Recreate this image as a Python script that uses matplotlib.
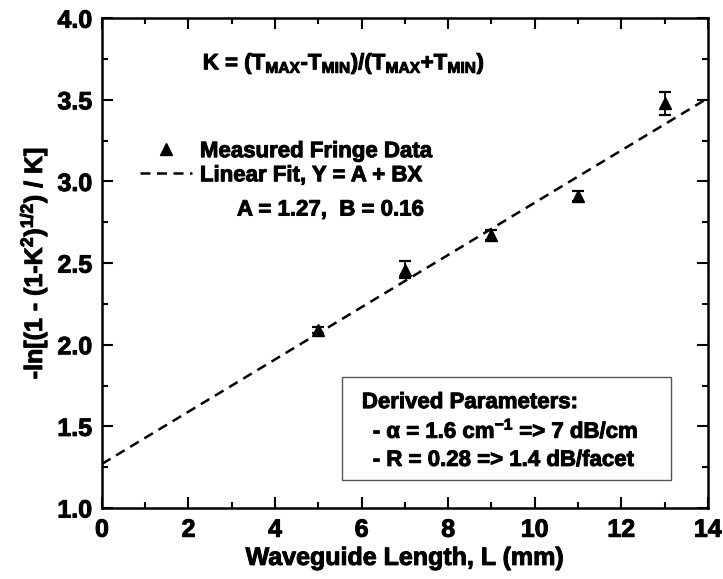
import numpy as np
import matplotlib.pyplot as plt
import matplotlib.patheffects as pe
from matplotlib.lines import Line2D
from matplotlib.patches import Rectangle
from matplotlib.ticker import MultipleLocator

plt.rcParams['font.family'] = ['Liberation Sans', 'DejaVu Sans']
plt.rcParams['font.weight'] = 'bold'
plt.rcParams['mathtext.fontset'] = 'custom'
plt.rcParams['mathtext.rm'] = 'Liberation Sans:bold'
plt.rcParams['mathtext.it'] = 'Liberation Sans:bold'
plt.rcParams['mathtext.bf'] = 'Liberation Sans:bold'

# Datos medidos
longitud = np.array([5, 7, 9, 11, 13])
valor = np.array([2.09, 2.46, 2.67, 2.91, 3.48])
error = np.array([0.02, 0.05, 0.03, 0.03, 0.07])

# Ajuste lineal Y = A + BX
A = 1.27
B = 0.16
x_ajuste = np.array([0, 14])

# trazo extra para que el texto se vea mas grueso
grueso = [pe.Stroke(linewidth=0.7, foreground='black'), pe.Normal()]

fig = plt.figure(figsize=(7.23, 5.79), dpi=100)
ax = fig.add_axes([0.141, 0.1226, 0.838, 0.846])

estilo = (0, (4, 2.6))
ax.plot(x_ajuste, A + B * x_ajuste, color='black', linestyle=estilo, lw=1.8)
ax.errorbar(longitud, valor, yerr=error, fmt='^', color='black', ms=8,
            capsize=4, elinewidth=1.3, capthick=1.6)

ax.set_xlim(0, 14)
ax.set_ylim(1.0, 4.0)
ax.xaxis.set_major_locator(MultipleLocator(2))
ax.xaxis.set_minor_locator(MultipleLocator(1))
ax.yaxis.set_major_locator(MultipleLocator(0.5))
ax.yaxis.set_minor_locator(MultipleLocator(0.25))
ax.yaxis.set_major_formatter(plt.FormatStrFormatter('%.1f'))
ax.tick_params(which='both', direction='in', width=1.5, labelsize=18, pad=7,
               top=True, right=True)
ax.tick_params(which='major', length=8)
ax.tick_params(which='minor', length=4)
for s in ax.spines.values():
    s.set_linewidth(1.8)

ax.set_xlabel('Waveguide Length, L (mm)', fontsize=18, fontweight='bold', labelpad=3)
ax.set_ylabel(r'-ln[(1 - (1-K$^{2}$)$^{1/2}$) / K]', fontsize=18, fontweight='bold', labelpad=6)

textos = []
textos.append(ax.text(2.33, 3.72, r'K = (T$_{MAX}$-T$_{MIN}$)/(T$_{MAX}$+T$_{MIN}$)',
                      fontsize=16, fontweight='bold', va='center'))

handles = [Line2D([], [], marker='^', color='black', linestyle='none', ms=8),
           Line2D([], [], color='black', linestyle=estilo, lw=1.8)]
leg = ax.legend(handles, ['Measured Fringe Data', 'Linear Fit, Y = A + BX'],
                loc='upper left', bbox_to_anchor=(0.0627, 0.749), frameon=False,
                fontsize=16, handlelength=2.34, handletextpad=0.36, labelspacing=0.14,
                borderpad=0, borderaxespad=0)
textos.extend(leg.get_texts())
textos.append(ax.text(3.12, 2.825, 'A = 1.27,  B = 0.16', fontsize=16,
                      fontweight='bold', va='center'))

ax.add_patch(Rectangle((0.396, 0.057), 0.543, 0.210, transform=ax.transAxes,
                       fill=False, edgecolor='#555555', lw=1))
textos.append(ax.text(0.429, 0.204, 'Derived Parameters:', transform=ax.transAxes,
                      fontsize=16, fontweight='bold', va='baseline'))
textos.append(ax.text(0.447, 0.143, r'- $\alpha$ = 1.6 cm$^{-1}$ => 7 dB/cm',
                      transform=ax.transAxes, fontsize=16, fontweight='bold', va='baseline'))
textos.append(ax.text(0.447, 0.086, '- R = 0.28 => 1.4 dB/facet', transform=ax.transAxes,
                      fontsize=16, fontweight='bold', va='baseline'))

textos += [ax.xaxis.label, ax.yaxis.label]
textos += ax.get_xticklabels() + ax.get_yticklabels()
for t in textos:
    t.set_path_effects(grueso)

fig.savefig('out.png', dpi=100)
